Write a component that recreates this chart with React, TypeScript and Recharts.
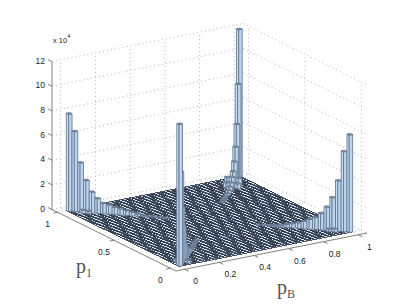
import React from 'react';
import { ScatterChart, Scatter, XAxis, YAxis, ReferenceLine } from 'recharts';

const W = 407;
const H = 307;

// tick labels
const zTicks = [0, 2, 4, 6, 8, 10, 12];
const pBTicks = [0, 0.2, 0.4, 0.6, 0.8, 1];
const p1Ticks = [0, 0.5, 1];

// bin count per axis (hist over 0..1)
const BINS = 50;

// counts (x 10^4) along the diagonals, walking in from each corner
const leftArm = [7.9, 6.5, 4.0, 2.6, 1.7, 1.2, 0.85, 0.75, 0.6, 0.5, 0.4, 0.3, 0.2, 0.12, 0.08, 0.06, 0.05, 0.04];
const rightArm = [7.9, 6.5, 4.1, 2.7, 1.9, 1.35, 1.0, 0.8, 0.6, 0.45, 0.35, 0.25, 0.15, 0.1, 0.06, 0.05, 0.04];
const frontArm = [11.5, 7.5, 4.5, 2.8, 1.3, 0.9, 0.6, 0.4, 0.25, 0.15, 0.1, 0.08, 0.06, 0.05, 0.04];
const backArm = [12.0, 7.7, 4.6, 2.9, 1.85, 1.2, 0.9, 0.6, 0.4, 0.25, 0.15, 0.1, 0.08, 0.06, 0.05];

// small bars beside the arms: [p1, pB, count]
const shoulderBars = [
  [0.91, 0.87, 0.7],
  [0.87, 0.91, 0.7],
  [0.89, 0.85, 0.4],
  [0.85, 0.89, 0.4],
  [0.97, 0.05, 0.25],
  [0.95, 0.07, 0.25],
  [0.93, 0.05, 0.25],
  [0.91, 0.07, 0.2],
  [0.05, 0.97, 0.25],
  [0.07, 0.95, 0.25],
  [0.05, 0.93, 0.25],
  [0.07, 0.91, 0.2],
  [0.07, 0.03, 0.2],
  [0.03, 0.07, 0.2],
];

// view box of the 3D axes, in px of the hidden plane axes
const ORIGIN = { x: 176, y: 271 };
const PB_VEC = { x: 191, y: -38 };
const P1_VEC = { x: -124, y: -61.5 };
const Z_PX = 12.33;
const LIM_LO = -0.05;
const LIM_SPAN = 1.1;

const project = (p1: number, pB: number, z = 0) => {
  const a = (pB - LIM_LO) / LIM_SPAN;
  const b = (p1 - LIM_LO) / LIM_SPAN;
  return {
    sx: ORIGIN.x + PB_VEC.x * a + P1_VEC.x * b,
    sy: ORIGIN.y + PB_VEC.y * a + P1_VEC.y * b - z * Z_PX,
  };
};

const binWidth = 1 / BINS;
const halfB = { x: (PB_VEC.x * binWidth) / LIM_SPAN / 2, y: (PB_VEC.y * binWidth) / LIM_SPAN / 2 };
const halfP = { x: (P1_VEC.x * binWidth) / LIM_SPAN / 2, y: (P1_VEC.y * binWidth) / LIM_SPAN / 2 };

const pts = (list: number[][]) => list.map((p) => p.join(',')).join(' ');

// floor cells, all drawn flat: counts away from the ridges are too small to read
const floorCells: any[] = [];
for (let i = BINS - 1; i >= 0; i--) {
  for (let j = BINS - 1; j >= 0; j--) {
    floorCells.push(project((i + 0.5) * binWidth, (j + 0.5) * binWidth));
  }
}

const edgeBin = (i: number) => (i + 0.5) * binWidth;
const highBin = (i: number) => 1 - edgeBin(i);

const barData = [
  ...leftArm.map((z, i) => ({ ...project(highBin(i), edgeBin(i)), z })),
  ...rightArm.map((z, i) => ({ ...project(edgeBin(i), highBin(i)), z })),
  ...frontArm.map((z, i) => ({ ...project(edgeBin(i), edgeBin(i)), z })),
  ...backArm.map((z, i) => ({ ...project(highBin(i), highBin(i)), z })),
  ...shoulderBars.map(([p1, pB, z]) => ({ ...project(p1, pB), z })),
].sort((a, b) => a.sy - b.sy);

const zTickData = zTicks.map((t) => ({ ...project(1.05, -0.05, t), label: String(t) }));
const pBTickData = pBTicks.map((t) => ({ ...project(-0.05, t), label: String(t) }));
const p1TickData = p1Ticks.map((t) => ({ ...project(t, -0.05), label: String(t) }));

const FloorCell = ({ cx, cy }: any) => (
  <polygon
    points={pts([
      [cx - halfB.x - halfP.x, cy - halfB.y - halfP.y],
      [cx + halfP.x - halfB.x, cy + halfP.y - halfB.y],
      [cx + halfB.x + halfP.x, cy + halfB.y + halfP.y],
      [cx + halfB.x - halfP.x, cy + halfB.y - halfP.y],
    ])}
    fill="#d2e5f9"
    stroke="#2a3442"
    strokeWidth={0.8}
    shapeRendering="crispEdges"
  />
);

const Bar3D = ({ cx, cy, payload }: any) => {
  const h = payload.z * Z_PX;
  const left = [cx - halfB.x + halfP.x, cy - halfB.y + halfP.y];
  const front = [cx - halfB.x - halfP.x, cy - halfB.y - halfP.y];
  const right = [cx + halfB.x - halfP.x, cy + halfB.y - halfP.y];
  const back = [cx + halfB.x + halfP.x, cy + halfB.y + halfP.y];
  const up = (p: number[]) => [p[0], p[1] - h];
  const edge = '#5f6f85';
  return (
    <g stroke={edge} strokeWidth={0.8} strokeLinejoin="round">
      <polygon points={pts([left, front, up(front), up(left)])} fill="#c9dff5" />
      <polygon points={pts([front, right, up(right), up(front)])} fill="#b9d4ef" />
      <polygon points={pts([up(left), up(front), up(right), up(back)])} fill="#8fa6bf" />
    </g>
  );
};

const tickText = (dx: number, dy: number, anchor = 'middle') => ({ cx, cy, payload }: any) => (
  <text
    x={cx + dx}
    y={cy + dy}
    textAnchor={anchor}
    dominantBaseline="central"
    fontFamily="Liberation Sans"
    fontSize={8.5}
    fill="#222"
  >
    {payload.label}
  </text>
);

const AxisName = ({ cx, cy, payload }: any) => (
  <text x={cx} y={cy} fontFamily="Liberation Serif" fontSize={20} fill="#555">
    p
    <tspan fontSize={12} dy={4}>
      {payload.sub}
    </tspan>
  </text>
);

const Multiplier = ({ cx, cy }: any) => (
  <text x={cx} y={cy} fontFamily="Liberation Sans" fontSize={7.5} fill="#222">
    x 10
    <tspan fontSize={5.5} dy={-5}>
      4
    </tspan>
  </text>
);

const AXIS_COLOR = '#808080';
const GRID_COLOR = '#b4b4b4';

const seg = (a: { sx: number; sy: number }, b: { sx: number; sy: number }) => [
  { x: a.sx, y: a.sy },
  { x: b.sx, y: b.sy },
];

const LO = -0.05;
const HI = 1.05;

export default function App() {
  const gridLines: any[] = [];
  // back walls
  zTicks.forEach((t) => {
    gridLines.push(seg(project(HI, LO, t), project(HI, HI, t)));
    gridLines.push(seg(project(HI, HI, t), project(LO, HI, t)));
  });
  pBTicks.forEach((t) => gridLines.push(seg(project(HI, t, 0), project(HI, t, 12))));
  p1Ticks.forEach((t) => gridLines.push(seg(project(t, HI, 0), project(t, HI, 12))));
  // floor
  pBTicks.forEach((t) => gridLines.push(seg(project(LO, t), project(HI, t))));
  p1Ticks.forEach((t) => gridLines.push(seg(project(t, LO), project(t, HI))));

  const axisLines = [
    seg(project(HI, LO, 0), project(HI, LO, 12)),
    seg(project(HI, LO), project(LO, LO)),
    seg(project(LO, LO), project(LO, HI)),
    ...zTicks.map((t) => seg(project(HI + 0.035, LO, t), project(HI, LO, t))),
    ...pBTicks.map((t) => seg(project(LO - 0.035, t), project(LO, t))),
    ...p1Ticks.map((t) => seg(project(t, LO - 0.025), project(t, LO))),
  ];

  return (
    <div style={{ position: 'absolute', left: 0, top: 0 }}>
      <ScatterChart width={W} height={H} margin={{ top: 0, right: 0, bottom: 0, left: 0 }}>
        <XAxis type="number" dataKey="sx" domain={[0, W]} hide />
        <YAxis type="number" dataKey="sy" domain={[0, H]} reversed hide />
        {gridLines.map((s, i) => (
          <ReferenceLine
            key={`g${i}`}
            segment={s}
            stroke={GRID_COLOR}
            strokeWidth={1}
            strokeDasharray="1 3"
            ifOverflow="visible"
          />
        ))}
        {axisLines.map((s, i) => (
          <ReferenceLine key={`a${i}`} segment={s} stroke={AXIS_COLOR} strokeWidth={1} ifOverflow="visible" />
        ))}
        <Scatter data={floorCells} shape={FloorCell} isAnimationActive={false} />
        <Scatter data={barData} shape={Bar3D} isAnimationActive={false} />
        <Scatter data={zTickData} shape={tickText(-7, -1, 'end')} isAnimationActive={false} />
        <Scatter data={pBTickData} shape={tickText(11, 12)} isAnimationActive={false} />
        <Scatter data={p1TickData} shape={tickText(-10, 12)} isAnimationActive={false} />
        <Scatter data={[{ sx: 76, sy: 273, sub: '1' }]} shape={AxisName} isAnimationActive={false} />
        <Scatter data={[{ sx: 277, sy: 294, sub: 'B' }]} shape={AxisName} isAnimationActive={false} />
        <Scatter data={[{ sx: 53, sy: 43 }]} shape={Multiplier} isAnimationActive={false} />
      </ScatterChart>
    </div>
  );
}
